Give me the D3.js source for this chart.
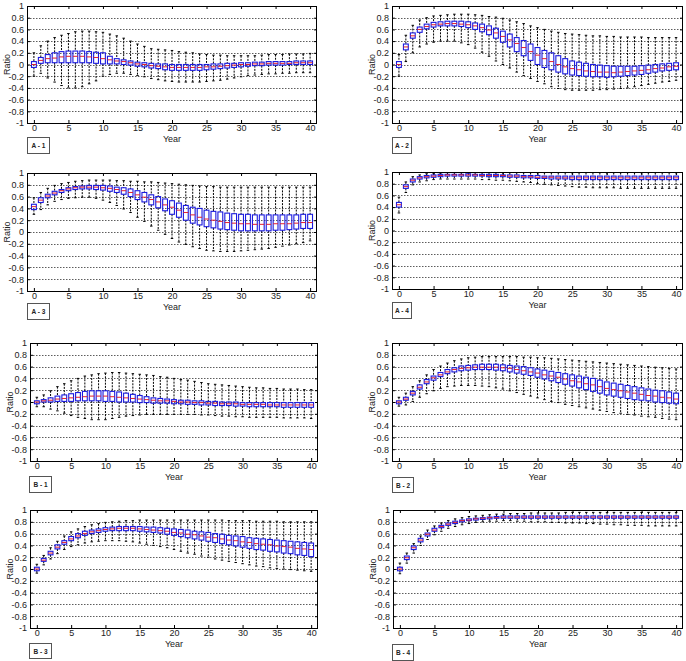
<!DOCTYPE html>
<html><head><meta charset="utf-8">
<script src="https://cdn.jsdelivr.net/npm/d3@7"></script>
<style>
body{margin:0;background:#fff;}
text{font-family:"Liberation Sans",Arial,sans-serif;}
</style></head>
<body><svg id="c" width="686" height="661"></svg>
<script>
// ---------- data ----------
const years = d3.range(0, 41);
const xTicks = [0,5,10,15,20,25,30,35,40];
const yTicks = [-1,-0.8,-0.6,-0.4,-0.2,0,0.2,0.4,0.6,0.8,1];
const panelNames = ["A - 1","A - 2","A - 3","A - 4","B - 1","B - 2","B - 3","B - 4"];

// A-1
const a1Lo  = [-0.2,-0.15,-0.23,-0.3,-0.36,-0.4,-0.4,-0.38,-0.33,-0.28,-0.2,-0.17,-0.15,-0.15,-0.17,-0.19,-0.21,-0.24,-0.26,-0.28,-0.29,-0.3,-0.3,-0.3,-0.3,-0.29,-0.28,-0.27,-0.25,-0.23,-0.21,-0.19,-0.18,-0.17,-0.16,-0.16,-0.15,-0.15,-0.14,-0.14,-0.14];
const a1Q1  = [-0.05,0.02,0.03,0.03,0.03,0.03,0.03,0.03,0.03,0.02,0.01,0.01,0.01,0.0,-0.01,-0.03,-0.04,-0.06,-0.07,-0.09,-0.1,-0.1,-0.1,-0.1,-0.1,-0.09,-0.08,-0.07,-0.06,-0.05,-0.04,-0.03,-0.02,-0.02,-0.01,-0.01,-0.01,0.0,0.0,0.0,0.0];
const a1Med = [0,0.07,0.1,0.11,0.13,0.14,0.14,0.14,0.13,0.12,0.1,0.08,0.06,0.05,0.03,0.01,0.0,-0.02,-0.03,-0.04,-0.05,-0.05,-0.05,-0.05,-0.05,-0.04,-0.04,-0.03,-0.02,-0.01,0.0,0.0,0.01,0.01,0.02,0.02,0.02,0.02,0.03,0.03,0.03];
const a1Q3  = [0.05,0.12,0.17,0.2,0.22,0.23,0.23,0.23,0.22,0.21,0.2,0.14,0.1,0.08,0.06,0.04,0.03,0.02,0.01,0.01,0.0,0.0,0.0,0.0,0.0,0.0,0.01,0.01,0.02,0.02,0.03,0.03,0.04,0.04,0.05,0.05,0.05,0.05,0.06,0.06,0.06];
const a1Hi  = [0.2,0.32,0.4,0.46,0.5,0.53,0.56,0.57,0.57,0.56,0.55,0.52,0.49,0.45,0.4,0.35,0.31,0.27,0.26,0.25,0.24,0.22,0.21,0.2,0.18,0.17,0.16,0.16,0.15,0.15,0.15,0.15,0.15,0.16,0.17,0.17,0.17,0.18,0.18,0.18,0.19];

// A-2
const a2Lo  = [-0.2,0.05,0.2,0.3,0.35,0.38,0.4,0.4,0.4,0.37,0.34,0.28,0.21,0.14,0.06,0.0,-0.06,-0.13,-0.19,-0.24,-0.29,-0.33,-0.38,-0.41,-0.43,-0.44,-0.44,-0.44,-0.44,-0.43,-0.43,-0.42,-0.41,-0.4,-0.38,-0.36,-0.34,-0.32,-0.3,-0.29,-0.27];
const a2Q1  = [-0.05,0.25,0.45,0.55,0.61,0.64,0.66,0.66,0.66,0.65,0.63,0.6,0.56,0.51,0.45,0.38,0.3,0.22,0.15,0.07,0.0,-0.05,-0.09,-0.13,-0.16,-0.18,-0.19,-0.2,-0.21,-0.21,-0.22,-0.21,-0.2,-0.19,-0.18,-0.17,-0.15,-0.13,-0.11,-0.1,-0.09];
const a2Med = [0,0.3,0.49,0.6,0.65,0.68,0.69,0.7,0.7,0.69,0.68,0.66,0.63,0.59,0.54,0.48,0.42,0.36,0.29,0.22,0.16,0.1,0.05,0.0,-0.04,-0.07,-0.09,-0.11,-0.12,-0.13,-0.13,-0.14,-0.13,-0.12,-0.11,-0.1,-0.09,-0.07,-0.06,-0.04,-0.03];
const a2Q3  = [0.05,0.35,0.54,0.64,0.69,0.72,0.73,0.74,0.74,0.74,0.73,0.71,0.69,0.66,0.62,0.57,0.52,0.46,0.41,0.35,0.29,0.24,0.2,0.15,0.1,0.06,0.04,0.02,0.0,-0.01,-0.02,-0.03,-0.03,-0.03,-0.03,-0.02,-0.01,0.0,0.01,0.02,0.03];
const a2Hi  = [0.17,0.5,0.67,0.76,0.8,0.83,0.84,0.85,0.86,0.86,0.86,0.85,0.84,0.82,0.81,0.79,0.76,0.73,0.7,0.66,0.63,0.6,0.57,0.55,0.53,0.52,0.51,0.5,0.49,0.49,0.48,0.48,0.47,0.47,0.47,0.47,0.46,0.46,0.46,0.46,0.46];

// A-3
const a3Lo  = [0.3,0.38,0.46,0.52,0.55,0.57,0.58,0.59,0.59,0.57,0.54,0.5,0.45,0.39,0.33,0.25,0.18,0.1,0.03,-0.04,-0.11,-0.17,-0.21,-0.25,-0.28,-0.31,-0.32,-0.33,-0.33,-0.33,-0.32,-0.31,-0.3,-0.29,-0.28,-0.26,-0.24,-0.22,-0.2,-0.18,-0.15];
const a3Q1  = [0.38,0.5,0.58,0.63,0.67,0.7,0.72,0.73,0.73,0.72,0.71,0.69,0.67,0.64,0.6,0.55,0.51,0.46,0.41,0.36,0.3,0.25,0.2,0.15,0.12,0.09,0.07,0.05,0.04,0.03,0.02,0.02,0.02,0.02,0.02,0.03,0.03,0.04,0.05,0.06,0.06];
const a3Med = [0.43,0.54,0.61,0.66,0.7,0.73,0.75,0.76,0.76,0.76,0.75,0.74,0.72,0.7,0.67,0.63,0.59,0.55,0.51,0.46,0.42,0.37,0.33,0.29,0.25,0.22,0.2,0.18,0.16,0.15,0.14,0.14,0.13,0.13,0.13,0.14,0.14,0.14,0.15,0.16,0.16];
const a3Q3  = [0.47,0.58,0.64,0.69,0.72,0.75,0.77,0.78,0.79,0.79,0.79,0.78,0.76,0.75,0.73,0.7,0.67,0.63,0.6,0.56,0.53,0.49,0.45,0.42,0.4,0.37,0.35,0.34,0.32,0.31,0.3,0.3,0.29,0.29,0.29,0.29,0.29,0.29,0.29,0.3,0.3];
const a3Hi  = [0.58,0.67,0.74,0.79,0.82,0.84,0.86,0.87,0.88,0.88,0.88,0.88,0.87,0.87,0.86,0.86,0.85,0.85,0.84,0.83,0.82,0.81,0.8,0.79,0.78,0.77,0.77,0.76,0.76,0.76,0.76,0.76,0.76,0.76,0.76,0.76,0.76,0.76,0.76,0.76,0.76];

// A-4
const a4Lo  = [0.3,0.65,0.78,0.83,0.85,0.87,0.88,0.88,0.88,0.88,0.88,0.88,0.87,0.87,0.86,0.86,0.85,0.84,0.83,0.82,0.8,0.79,0.78,0.77,0.76,0.75,0.74,0.74,0.73,0.73,0.73,0.73,0.72,0.72,0.72,0.72,0.72,0.72,0.72,0.72,0.72];
const a4Q1  = [0.4,0.72,0.83,0.88,0.9,0.91,0.92,0.93,0.93,0.93,0.93,0.93,0.93,0.92,0.92,0.92,0.91,0.91,0.9,0.9,0.89,0.89,0.88,0.88,0.88,0.87,0.87,0.87,0.87,0.87,0.87,0.87,0.87,0.87,0.87,0.87,0.87,0.87,0.87,0.87,0.87];
const a4Med = [0.44,0.75,0.86,0.9,0.92,0.93,0.94,0.95,0.95,0.95,0.95,0.95,0.94,0.94,0.94,0.94,0.93,0.93,0.92,0.92,0.91,0.91,0.91,0.9,0.9,0.9,0.9,0.9,0.9,0.9,0.9,0.9,0.9,0.9,0.9,0.9,0.9,0.9,0.9,0.9,0.9];
const a4Q3  = [0.48,0.78,0.88,0.92,0.94,0.95,0.96,0.96,0.96,0.96,0.97,0.96,0.96,0.96,0.96,0.95,0.95,0.95,0.94,0.94,0.94,0.93,0.93,0.93,0.93,0.93,0.93,0.93,0.93,0.93,0.93,0.93,0.93,0.93,0.93,0.93,0.93,0.93,0.93,0.93,0.93];
const a4Hi  = [0.57,0.83,0.92,0.95,0.97,0.98,0.98,0.99,0.99,0.99,0.99,0.99,0.99,0.99,0.99,0.99,0.99,0.99,0.99,0.99,0.99,0.99,0.99,0.99,0.99,0.99,0.99,0.99,0.99,0.99,0.99,0.99,0.99,0.99,0.99,0.99,0.99,0.99,0.99,0.99,0.99];

// B-1
const b1Lo  = [-0.08,-0.08,-0.12,-0.15,-0.19,-0.23,-0.26,-0.28,-0.3,-0.3,-0.3,-0.28,-0.26,-0.24,-0.23,-0.22,-0.21,-0.21,-0.21,-0.21,-0.21,-0.21,-0.21,-0.21,-0.22,-0.22,-0.23,-0.24,-0.24,-0.25,-0.25,-0.26,-0.26,-0.26,-0.26,-0.26,-0.27,-0.27,-0.27,-0.27,-0.28];
const b1Q1  = [-0.03,0.0,0.0,0.01,0.01,0.01,0.02,0.02,0.02,0.02,0.01,0.01,0.0,0.0,0.0,-0.01,-0.01,-0.02,-0.02,-0.02,-0.03,-0.03,-0.04,-0.04,-0.05,-0.05,-0.06,-0.06,-0.06,-0.07,-0.07,-0.08,-0.08,-0.08,-0.08,-0.08,-0.09,-0.09,-0.09,-0.09,-0.09];
const b1Med = [0,0.02,0.03,0.05,0.06,0.07,0.08,0.09,0.1,0.1,0.1,0.09,0.08,0.07,0.06,0.05,0.04,0.03,0.02,0.02,0.01,0.0,0.0,-0.01,-0.01,-0.02,-0.02,-0.03,-0.03,-0.03,-0.04,-0.04,-0.04,-0.04,-0.05,-0.05,-0.05,-0.05,-0.05,-0.05,-0.05];
const b1Q3  = [0.02,0.04,0.07,0.1,0.12,0.14,0.16,0.18,0.19,0.19,0.19,0.18,0.17,0.15,0.13,0.11,0.09,0.07,0.06,0.05,0.04,0.03,0.03,0.02,0.02,0.01,0.01,0.0,0.0,0.0,-0.01,-0.01,-0.01,-0.01,-0.01,-0.01,-0.01,-0.01,-0.01,-0.01,-0.01];
const b1Hi  = [0.08,0.12,0.19,0.26,0.31,0.36,0.4,0.44,0.46,0.48,0.49,0.5,0.5,0.49,0.48,0.47,0.46,0.45,0.43,0.42,0.4,0.38,0.37,0.35,0.33,0.31,0.3,0.29,0.28,0.27,0.26,0.25,0.24,0.24,0.23,0.23,0.22,0.22,0.22,0.21,0.21];

// B-2
const b2Lo  = [-0.07,-0.05,0.01,0.08,0.14,0.19,0.23,0.26,0.27,0.28,0.28,0.28,0.27,0.26,0.24,0.22,0.19,0.16,0.13,0.1,0.07,0.04,0.01,-0.01,-0.04,-0.06,-0.08,-0.1,-0.12,-0.14,-0.16,-0.18,-0.19,-0.21,-0.22,-0.24,-0.25,-0.26,-0.28,-0.29,-0.3];
const b2Q1  = [-0.03,0.03,0.12,0.22,0.31,0.37,0.43,0.48,0.51,0.53,0.54,0.55,0.55,0.55,0.54,0.53,0.51,0.49,0.47,0.45,0.42,0.39,0.36,0.33,0.3,0.27,0.24,0.21,0.18,0.15,0.12,0.1,0.08,0.06,0.04,0.03,0.02,0.0,-0.01,-0.02,-0.03];
const b2Med = [0,0.05,0.15,0.25,0.34,0.41,0.46,0.51,0.55,0.57,0.58,0.59,0.59,0.59,0.59,0.58,0.57,0.55,0.53,0.51,0.49,0.46,0.44,0.42,0.39,0.36,0.34,0.31,0.29,0.26,0.23,0.21,0.19,0.17,0.15,0.13,0.11,0.1,0.08,0.07,0.05];
const b2Q3  = [0.02,0.08,0.18,0.29,0.38,0.44,0.5,0.55,0.58,0.61,0.62,0.63,0.64,0.64,0.64,0.63,0.62,0.61,0.6,0.58,0.56,0.54,0.52,0.5,0.48,0.46,0.44,0.42,0.4,0.37,0.34,0.32,0.3,0.28,0.26,0.24,0.22,0.2,0.19,0.17,0.15];
const b2Hi  = [0.08,0.15,0.26,0.36,0.46,0.55,0.61,0.66,0.7,0.73,0.75,0.76,0.77,0.77,0.77,0.77,0.77,0.77,0.76,0.76,0.75,0.75,0.74,0.73,0.72,0.71,0.7,0.69,0.68,0.67,0.66,0.65,0.64,0.63,0.62,0.61,0.6,0.59,0.58,0.57,0.56];

// B-3
const b3Lo  = [-0.07,0.07,0.17,0.26,0.33,0.38,0.41,0.44,0.46,0.47,0.48,0.48,0.48,0.47,0.46,0.44,0.42,0.4,0.38,0.36,0.33,0.3,0.27,0.25,0.22,0.2,0.17,0.15,0.13,0.11,0.09,0.07,0.05,0.04,0.02,0.01,0.0,-0.01,-0.02,-0.03,-0.04];
const b3Q1  = [-0.03,0.13,0.24,0.34,0.42,0.48,0.53,0.57,0.6,0.62,0.64,0.65,0.65,0.65,0.65,0.64,0.63,0.62,0.61,0.59,0.57,0.55,0.53,0.51,0.49,0.47,0.45,0.43,0.41,0.39,0.37,0.35,0.33,0.32,0.3,0.29,0.27,0.26,0.24,0.23,0.21];
const b3Med = [0,0.15,0.27,0.37,0.45,0.51,0.56,0.6,0.63,0.65,0.67,0.68,0.69,0.69,0.69,0.68,0.67,0.66,0.65,0.64,0.62,0.61,0.59,0.58,0.56,0.54,0.53,0.51,0.49,0.48,0.46,0.45,0.43,0.42,0.41,0.39,0.38,0.37,0.35,0.34,0.33];
const b3Q3  = [0.03,0.18,0.3,0.41,0.48,0.55,0.6,0.64,0.66,0.68,0.7,0.71,0.72,0.72,0.72,0.72,0.71,0.71,0.7,0.69,0.68,0.67,0.66,0.64,0.63,0.62,0.6,0.59,0.57,0.56,0.55,0.53,0.52,0.51,0.5,0.49,0.48,0.47,0.46,0.45,0.44];
const b3Hi  = [0.08,0.23,0.36,0.47,0.56,0.63,0.68,0.72,0.75,0.77,0.79,0.8,0.81,0.82,0.82,0.83,0.83,0.83,0.83,0.83,0.83,0.83,0.83,0.83,0.83,0.83,0.83,0.83,0.82,0.82,0.82,0.82,0.81,0.81,0.81,0.81,0.8,0.8,0.8,0.8,0.8];

// B-4
const b4Lo  = [-0.08,0.1,0.27,0.4,0.5,0.58,0.64,0.69,0.72,0.75,0.77,0.79,0.8,0.81,0.81,0.82,0.82,0.81,0.81,0.8,0.8,0.8,0.79,0.79,0.78,0.78,0.78,0.77,0.77,0.76,0.76,0.75,0.75,0.74,0.74,0.74,0.73,0.73,0.73,0.73,0.73];
const b4Q1  = [-0.03,0.16,0.33,0.46,0.56,0.64,0.7,0.74,0.77,0.8,0.82,0.83,0.84,0.85,0.86,0.86,0.86,0.86,0.86,0.86,0.86,0.86,0.86,0.86,0.86,0.86,0.86,0.86,0.86,0.86,0.86,0.86,0.86,0.86,0.86,0.86,0.86,0.86,0.86,0.86,0.86];
const b4Med = [0,0.19,0.36,0.49,0.59,0.66,0.72,0.76,0.79,0.82,0.83,0.85,0.86,0.87,0.87,0.88,0.88,0.88,0.88,0.88,0.88,0.88,0.88,0.88,0.88,0.88,0.88,0.88,0.88,0.88,0.88,0.88,0.88,0.88,0.88,0.88,0.88,0.88,0.88,0.88,0.88];
const b4Q3  = [0.03,0.22,0.39,0.52,0.61,0.69,0.74,0.78,0.81,0.83,0.85,0.86,0.87,0.88,0.89,0.9,0.9,0.9,0.9,0.9,0.9,0.9,0.9,0.9,0.9,0.9,0.9,0.9,0.9,0.9,0.9,0.9,0.9,0.9,0.9,0.9,0.9,0.9,0.9,0.9,0.9];
const b4Hi  = [0.1,0.27,0.43,0.56,0.66,0.73,0.78,0.82,0.85,0.87,0.89,0.9,0.91,0.92,0.93,0.93,0.94,0.94,0.94,0.95,0.95,0.95,0.95,0.95,0.96,0.96,0.96,0.96,0.96,0.96,0.96,0.96,0.96,0.96,0.96,0.96,0.96,0.96,0.96,0.96,0.96];

const seriesLo  = [a1Lo,a2Lo,a3Lo,a4Lo,b1Lo,b2Lo,b3Lo,b4Lo];
const seriesQ1  = [a1Q1,a2Q1,a3Q1,a4Q1,b1Q1,b2Q1,b3Q1,b4Q1];
const seriesMed = [a1Med,a2Med,a3Med,a4Med,b1Med,b2Med,b3Med,b4Med];
const seriesQ3  = [a1Q3,a2Q3,a3Q3,a4Q3,b1Q3,b2Q3,b3Q3,b4Q3];
const seriesHi  = [a1Hi,a2Hi,a3Hi,a4Hi,b1Hi,b2Hi,b3Hi,b4Hi];

// ---------- layout ----------
const layout = [
  {l:27, r:317, t:6,   b:123, lab:[27,137,22,16]},
  {l:392,r:683, t:6,   b:123, lab:[392,137,19,16]},
  {l:27, r:317, t:173, b:291, lab:[27,303,22,16]},
  {l:392,r:683, t:172, b:289, lab:[392,302,19,16]},
  {l:30, r:318, t:343, b:461, lab:[29,476,22,16]},
  {l:392,r:683, t:343, b:461, lab:[392,477,21,15]},
  {l:30, r:318, t:510, b:628, lab:[29,643,22,15]},
  {l:393,r:683, t:510, b:628, lab:[392,644,21,16]}
];

const svg = d3.select("#c");
const fmt = d => String(+d.toFixed(1));

layout.forEach((L, p) => {
  const x = d3.scaleLinear().domain([-1, 41]).range([L.l, L.r]);
  const y = d3.scaleLinear().domain([-1, 1]).range([L.b, L.t]);
  const g = svg.append("g");
  const W = L.r - L.l, H = L.b - L.t;

  // grid
  g.append("g").selectAll("line").data(yTicks.slice(1, -1)).join("line")
    .attr("x1", L.l).attr("x2", L.r)
    .attr("y1", d => Math.round(y(d)) + 0.5).attr("y2", d => Math.round(y(d)) + 0.5)
    .attr("stroke", "#333").attr("stroke-width", 0.8).attr("stroke-dasharray", "1.5,1.5");

  // axes
  const ax = g.append("g").attr("transform", `translate(0,${L.b})`)
    .call(d3.axisBottom(x).tickValues(xTicks).tickFormat(d3.format("d")).tickSizeInner(-3).tickSizeOuter(0).tickPadding(2));
  const axT = g.append("g").attr("transform", `translate(0,${L.t})`)
    .call(d3.axisTop(x).tickValues(xTicks).tickFormat("").tickSizeInner(-3).tickSizeOuter(0));
  const ay = g.append("g").attr("transform", `translate(${L.l},0)`)
    .call(d3.axisLeft(y).tickValues(yTicks).tickFormat(fmt).tickSizeInner(-3).tickSizeOuter(0).tickPadding(3));
  const ayR = g.append("g").attr("transform", `translate(${L.r},0)`)
    .call(d3.axisRight(y).tickValues(yTicks).tickFormat("").tickSizeInner(-3).tickSizeOuter(0));
  [ax, axT, ay, ayR].forEach(a => {
    a.select(".domain").remove();
    a.selectAll("line").attr("stroke", "#000");
    a.selectAll("text").attr("font-size", 9).attr("fill", "#222")
      .attr("font-family", "'Liberation Sans',Arial,sans-serif");
  });

  // frame
  g.append("rect").attr("x", L.l + 0.5).attr("y", L.t + 0.5)
    .attr("width", W - 1).attr("height", H).attr("fill", "none").attr("stroke", "#000").attr("stroke-width", 1);

  // labels
  g.append("text").attr("x", (L.l + L.r) / 2).attr("y", L.b + 18.5)
    .attr("text-anchor", "middle").attr("font-size", 9).attr("fill", "#222").text("Year");
  g.append("text").attr("transform", `translate(${L.l - 17},${(L.t + L.b) / 2}) rotate(-90)`)
    .attr("text-anchor", "middle").attr("font-size", 9).attr("fill", "#222").text("Ratio");

  // boxes
  const data = years.map((yr, i) => ({yr, lo: seriesLo[p][i], q1: seriesQ1[p][i], med: seriesMed[p][i], q3: seriesQ3[p][i], hi: seriesHi[p][i]}));
  const bw = x(0.35) - x(0);
  const cw = x(0.18) - x(0);
  const bg = g.append("g").selectAll("g").data(data).join("g");
  bg.append("line").attr("x1", d => x(d.yr)).attr("x2", d => x(d.yr))
    .attr("y1", d => y(d.hi)).attr("y2", d => y(d.q3))
    .attr("stroke", "#000").attr("stroke-dasharray", "2,1.2").attr("stroke-width", 1);
  bg.append("line").attr("x1", d => x(d.yr)).attr("x2", d => x(d.yr))
    .attr("y1", d => y(d.q1)).attr("y2", d => y(d.lo))
    .attr("stroke", "#000").attr("stroke-dasharray", "2,1.2").attr("stroke-width", 1);
  bg.append("line").attr("x1", d => x(d.yr) - cw).attr("x2", d => x(d.yr) + cw)
    .attr("y1", d => y(d.hi)).attr("y2", d => y(d.hi)).attr("stroke", "#000");
  bg.append("line").attr("x1", d => x(d.yr) - cw).attr("x2", d => x(d.yr) + cw)
    .attr("y1", d => y(d.lo)).attr("y2", d => y(d.lo)).attr("stroke", "#000");
  bg.append("rect").attr("x", d => x(d.yr) - bw).attr("width", 2 * bw)
    .attr("y", d => y(d.q3)).attr("height", d => Math.max(1, y(d.q1) - y(d.q3)))
    .attr("fill", "none").attr("stroke", "#1a1adf").attr("stroke-width", 1.1);
  bg.append("line").attr("x1", d => x(d.yr) - bw).attr("x2", d => x(d.yr) + bw)
    .attr("y1", d => y(d.med)).attr("y2", d => y(d.med)).attr("stroke", "#e02030").attr("stroke-width", 1);

  // panel label box
  const [lx, ly, lw, lh] = L.lab;
  g.append("rect").attr("x", lx + 0.5).attr("y", ly + 0.5).attr("width", lw).attr("height", lh)
    .attr("fill", "#fff").attr("stroke", "#555").attr("stroke-width", 1);
  g.append("text").attr("x", lx + 0.5 + lw / 2).attr("y", ly + lh / 2 + 3)
    .attr("text-anchor", "middle").attr("font-size", 6.5).attr("font-weight", "bold").attr("fill", "#222")
    .text(panelNames[p]);
});
</script></body></html>
